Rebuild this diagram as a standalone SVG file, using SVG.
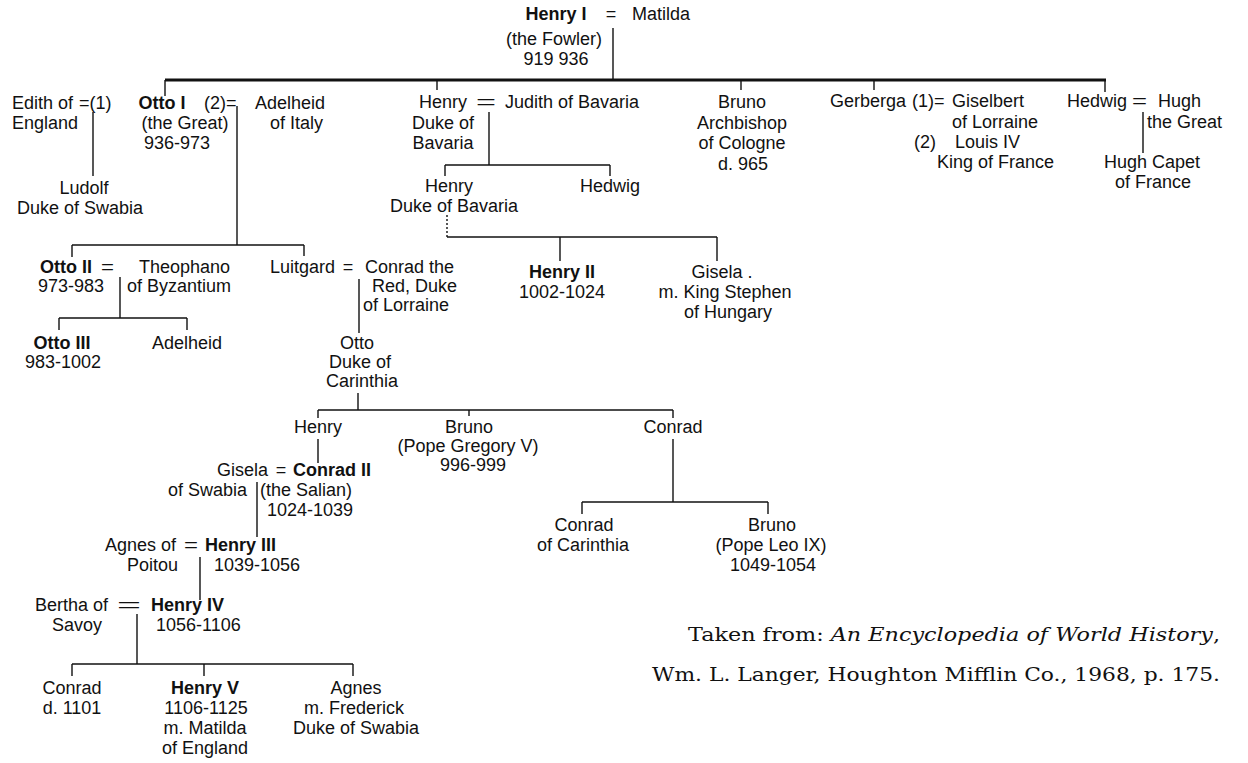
<svg xmlns="http://www.w3.org/2000/svg" width="1248" height="763" viewBox="0 0 1248 763">
<style>
text{font-family:"Liberation Sans",Arial,sans-serif;font-size:18px;fill:#111}
.b{font-weight:bold}
.m{text-anchor:middle}
.e{text-anchor:end}
.ft{font-family:"DejaVu Serif","Liberation Serif",serif;font-size:18px}
.it{font-style:italic}
#connectors line{stroke:#111;stroke-width:1.4}
#connectors line.thick{stroke-width:3}
#connectors line.dot{stroke-dasharray:2 2}
</style>
<rect width="1248" height="763" fill="#fff"/>
<g id="connectors">
<line x1="613" y1="28" x2="613" y2="80"/>
<line class="thick" x1="165" y1="80" x2="1106" y2="80"/>
<line x1="165" y1="80" x2="165" y2="96"/>
<line x1="437" y1="80" x2="437" y2="90"/>
<line x1="741" y1="80" x2="741" y2="90"/>
<line x1="874" y1="80" x2="874" y2="90"/>
<line x1="1105" y1="80" x2="1105" y2="92"/>
<line x1="93" y1="112" x2="93" y2="176"/>
<line x1="237" y1="106" x2="237" y2="245"/>
<line x1="72" y1="245" x2="304" y2="245"/>
<line x1="72" y1="245" x2="72" y2="257"/>
<line x1="304" y1="245" x2="304" y2="256"/>
<line x1="489" y1="112" x2="489" y2="165"/>
<line x1="445" y1="165" x2="610" y2="165"/>
<line x1="445" y1="165" x2="445" y2="176"/>
<line x1="610" y1="165" x2="610" y2="176"/>
<line class="dot" x1="447" y1="215" x2="447" y2="237"/>
<line x1="447" y1="237" x2="717" y2="237"/>
<line x1="560" y1="237" x2="560" y2="261"/>
<line x1="717" y1="237" x2="717" y2="261"/>
<line x1="1143" y1="112" x2="1143" y2="153"/>
<line x1="120" y1="277" x2="120" y2="318"/>
<line x1="59" y1="318" x2="187" y2="318"/>
<line x1="59" y1="318" x2="59" y2="330"/>
<line x1="187" y1="318" x2="187" y2="330"/>
<line x1="359" y1="279" x2="359" y2="333"/>
<line x1="358" y1="393" x2="358" y2="410"/>
<line x1="318" y1="410" x2="673" y2="410"/>
<line x1="318" y1="410" x2="318" y2="418"/>
<line x1="469" y1="410" x2="469" y2="416"/>
<line x1="673" y1="410" x2="673" y2="418"/>
<line x1="318" y1="439" x2="318" y2="463"/>
<line x1="673" y1="439" x2="673" y2="502"/>
<line x1="582" y1="502" x2="768" y2="502"/>
<line x1="582" y1="502" x2="582" y2="514"/>
<line x1="768" y1="502" x2="768" y2="514"/>
<line x1="257" y1="482" x2="257" y2="537"/>
<line x1="200" y1="557" x2="200" y2="600"/>
<line x1="137" y1="614" x2="137" y2="664"/>
<line x1="72" y1="664" x2="353" y2="664"/>
<line x1="72" y1="664" x2="72" y2="676"/>
<line x1="204" y1="664" x2="204" y2="676"/>
<line x1="353" y1="664" x2="353" y2="676"/>
</g>
<g id="henry1">
<text class="b m" x="556" y="20">Henry I</text>
<text class="m" x="611" y="20">=</text>
<text x="632" y="20">Matilda</text>
<text class="m" x="554" y="45">(the Fowler)</text>
<text class="m" x="556" y="65">919 936</text>
</g>
<g id="otto1">
<text x="12" y="109">Edith of</text>
<text x="79" y="109">=(1)</text>
<text class="b m" x="162" y="109">Otto I</text>
<text x="204" y="109">(2)=</text>
<text x="255" y="109">Adelheid</text>
<text x="12" y="129">England</text>
<text class="m" x="185" y="129">(the Great)</text>
<text x="270" y="129">of Italy</text>
<text class="m" x="177" y="149">936-973</text>
</g>
<g id="ludolf">
<text class="m" x="84" y="194">Ludolf</text>
<text class="m" x="80" y="214">Duke of Swabia</text>
</g>
<g id="henry-bavaria">
<text x="419" y="108">Henry</text>
<text x="476" y="108" textLength="20" lengthAdjust="spacingAndGlyphs">=</text>
<text x="505" y="108">Judith of Bavaria</text>
<text class="m" x="443" y="129">Duke of</text>
<text class="m" x="443" y="149">Bavaria</text>
</g>
<g id="henry-bavaria-son">
<text class="m" x="449" y="192">Henry</text>
<text class="m" x="454" y="212">Duke of Bavaria</text>
</g>
<g id="hedwig1">
<text class="m" x="610" y="192">Hedwig</text>
</g>
<g id="bruno-cologne">
<text class="m" x="742" y="108">Bruno</text>
<text class="m" x="742" y="129">Archbishop</text>
<text class="m" x="742" y="149">of Cologne</text>
<text class="m" x="743" y="170">d. 965</text>
</g>
<g id="gerberga">
<text x="830" y="107">Gerberga</text>
<text x="912" y="107">(1)=</text>
<text x="952" y="107">Giselbert</text>
<text x="952" y="128">of Lorraine</text>
<text x="914" y="148">(2)</text>
<text x="955" y="148">Louis IV</text>
<text x="937" y="168">King of France</text>
</g>
<g id="hedwig2">
<text x="1067" y="107">Hedwig</text>
<text x="1132" y="107" textLength="15" lengthAdjust="spacingAndGlyphs">=</text>
<text x="1158" y="107">Hugh</text>
<text x="1147" y="128">the Great</text>
</g>
<g id="hugh-capet">
<text class="m" x="1152" y="168">Hugh Capet</text>
<text class="m" x="1153" y="188">of France</text>
</g>
<g id="otto2">
<text class="b" x="40" y="273">Otto II</text>
<text x="101" y="273" textLength="13" lengthAdjust="spacingAndGlyphs">=</text>
<text x="139" y="273">Theophano</text>
<text x="38" y="292">973-983</text>
<text x="127" y="292">of Byzantium</text>
</g>
<g id="otto3">
<text class="b m" x="62" y="349">Otto III</text>
<text class="m" x="63" y="368">983-1002</text>
</g>
<g id="adelheid2">
<text class="m" x="187" y="349">Adelheid</text>
</g>
<g id="luitgard">
<text x="270" y="273">Luitgard</text>
<text class="m" x="348" y="273">=</text>
<text x="365" y="273">Conrad the</text>
<text x="372" y="292">Red, Duke</text>
<text x="363" y="311">of Lorraine</text>
</g>
<g id="otto-carinthia">
<text class="m" x="357" y="349">Otto</text>
<text class="m" x="360" y="368">Duke of</text>
<text class="m" x="362" y="387">Carinthia</text>
</g>
<g id="henry2">
<text class="b m" x="562" y="278">Henry II</text>
<text class="m" x="562" y="298">1002-1024</text>
</g>
<g id="gisela1">
<text class="m" x="722" y="278">Gisela .</text>
<text class="m" x="725" y="298">m. King Stephen</text>
<text class="m" x="728" y="318">of Hungary</text>
</g>
<g id="henry-otto-son">
<text class="m" x="318" y="433">Henry</text>
</g>
<g id="bruno-gregory">
<text class="m" x="469" y="433">Bruno</text>
<text class="m" x="468" y="452">(Pope Gregory V)</text>
<text class="m" x="473" y="471">996-999</text>
</g>
<g id="conrad-otto-son">
<text class="m" x="673" y="433">Conrad</text>
</g>
<g id="conrad2">
<text class="e" x="268" y="476">Gisela</text>
<text class="m" x="281" y="476">=</text>
<text class="b" x="293" y="476">Conrad II</text>
<text class="e" x="247" y="496">of Swabia</text>
<text x="260" y="496">(the Salian)</text>
<text x="267" y="516">1024-1039</text>
</g>
<g id="conrad-carinthia">
<text class="m" x="584" y="531">Conrad</text>
<text class="m" x="583" y="551">of Carinthia</text>
</g>
<g id="bruno-leo">
<text class="m" x="772" y="531">Bruno</text>
<text class="m" x="771" y="551">(Pope Leo IX)</text>
<text class="m" x="773" y="571">1049-1054</text>
</g>
<g id="henry3">
<text x="105" y="551">Agnes of</text>
<text x="184" y="551" textLength="14" lengthAdjust="spacingAndGlyphs">=</text>
<text class="b" x="205" y="551">Henry III</text>
<text x="127" y="571">Poitou</text>
<text x="214" y="571">1039-1056</text>
</g>
<g id="henry4">
<text x="35" y="611">Bertha of</text>
<text x="117" y="611" textLength="24" lengthAdjust="spacingAndGlyphs">=</text>
<text class="b" x="151" y="611">Henry IV</text>
<text x="52" y="631">Savoy</text>
<text x="156" y="631">1056-1106</text>
</g>
<g id="conrad-1101">
<text class="m" x="72" y="694">Conrad</text>
<text class="m" x="72" y="714">d. 1101</text>
</g>
<g id="henry5">
<text class="b m" x="205" y="694">Henry V</text>
<text class="m" x="206" y="714">1106-1125</text>
<text class="m" x="205" y="734">m. Matilda</text>
<text class="m" x="205" y="754">of England</text>
</g>
<g id="agnes-frederick">
<text class="m" x="356" y="694">Agnes</text>
<text class="m" x="354" y="714">m. Frederick</text>
<text class="m" x="356" y="734">Duke of Swabia</text>
</g>
<g id="source">
<text class="ft" x="688" y="641" textLength="532" lengthAdjust="spacingAndGlyphs">Taken from:  <tspan class="it">An Encyclopedia of World History</tspan>,</text>
<text class="ft" x="652" y="681" textLength="568" lengthAdjust="spacingAndGlyphs">Wm. L. Langer, Houghton Mifflin Co., 1968, p. 175.</text>
</g>
</svg>
